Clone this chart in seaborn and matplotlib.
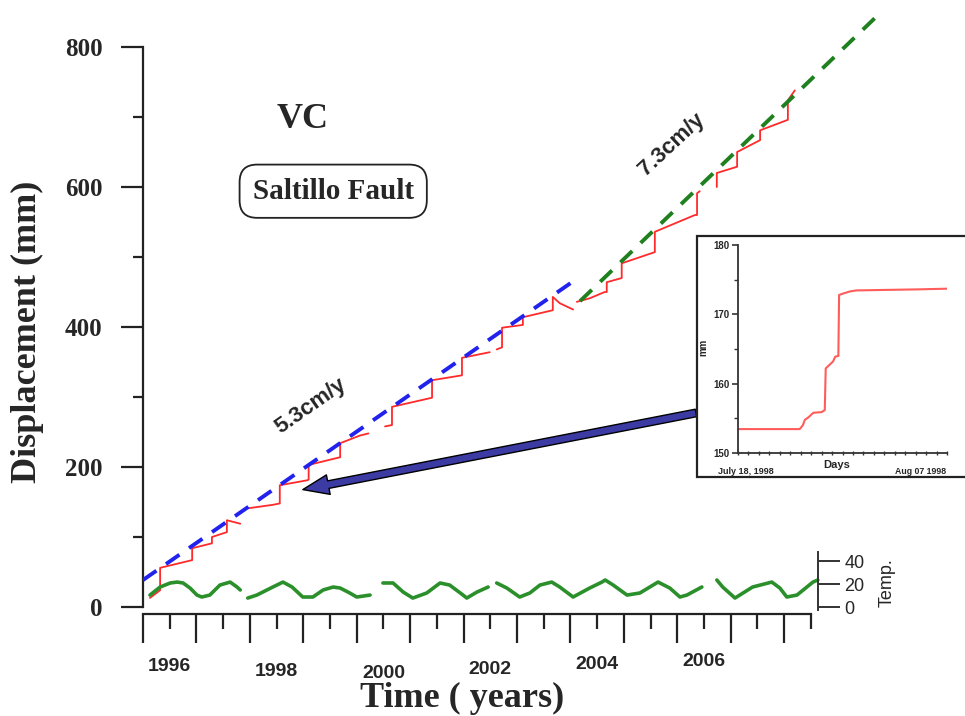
import numpy as np
import pandas as pd
import matplotlib
matplotlib.use("Agg")
import matplotlib.pyplot as plt
import matplotlib.transforms as mtrans
from matplotlib.patches import Rectangle, FancyArrowPatch, ArrowStyle
from matplotlib.ticker import FixedLocator
import seaborn as sns

# ---------------- data ----------------
red_year = [1996.13, 1996.32, 1996.32, 1996.92, 1996.92, 1997.29, 1997.29, 1997.57, 1997.57, 1997.82,
            1997.96, 1998.43, 1998.56, 1998.56, 1999.07, 1999.10, 1999.10, 1999.69, 1999.69, 2000.06, 2000.22,
            2000.53, 2000.66, 2000.66, 2001.41, 2001.41, 2001.97, 2001.97, 2002.49,
            2002.62, 2002.72, 2002.72, 2003.11, 2003.11, 2003.67, 2003.67, 2003.80, 2004.05,
            2004.12, 2004.36, 2004.64, 2004.68, 2004.68, 2004.96, 2004.96, 2005.58, 2005.58, 2006.33, 2006.37, 2006.37, 2006.42,
            2006.74, 2006.74, 2007.12, 2007.12, 2007.55, 2007.55, 2008.07, 2008.07, 2008.20]
red_mm = [13, 24, 56, 67, 84, 91, 100, 107, 124, 119,
          141, 146, 148, 174, 181, 182, 203, 214, 234, 245, 248,
          258, 260, 286, 299, 324, 331, 356, 364,
          368, 371, 399, 403, 414, 424, 443, 434, 425,
          436, 441, 450, 450, 464, 470, 491, 507, 536, 560, 560, 591, 594,
          600, 620, 629, 650, 667, 681, 696, 724, 738]
red_seg = [1] * 10 + [2] * 11 + [3] * 8 + [4] * 9 + [5] * 13 + [6] * 9

blue_year = [1996.0, 2004.14]
blue_mm = [38.6, 470.0]
green_year = [2004.18, 2009.79]
green_mm = [437.0, 848.0]

temp_year = [1996.13, 1996.32, 1996.51, 1996.64, 1996.75, 1996.88, 1997.01, 1997.10, 1997.25, 1997.44, 1997.63, 1997.76, 1997.82,
             1997.96, 1998.13, 1998.43, 1998.62, 1998.79, 1998.99, 1999.18, 1999.37, 1999.56, 1999.69, 1999.87, 2000.00, 2000.25,
             2000.49, 2000.68, 2000.87, 2001.05, 2001.31, 2001.56, 2001.74, 2001.99, 2002.06, 2002.25, 2002.46,
             2002.62, 2002.81, 2003.05, 2003.24, 2003.43, 2003.65, 2003.80, 2004.05, 2004.36, 2004.59, 2004.65, 2004.80,
             2005.06, 2005.30, 2005.64, 2005.86, 2006.05, 2006.18, 2006.46,
             2006.74, 2006.85, 2007.08, 2007.41, 2007.77, 2007.92, 2008.05, 2008.24, 2008.54, 2008.63]
temp_val = [10.4, 17.4, 20.9, 21.7, 20.9, 16.5, 10.4, 8.7, 10.4, 19.1, 21.7, 17.4, 14.8,
            7.8, 10.4, 17.4, 21.7, 17.4, 8.7, 8.7, 14.8, 17.4, 16.5, 12.2, 8.7, 10.4,
            20.9, 20.9, 13.0, 7.8, 12.2, 20.9, 19.1, 10.4, 7.8, 13.0, 17.4,
            20.9, 16.5, 8.7, 12.2, 19.1, 21.7, 17.4, 8.7, 16.5, 21.7, 23.5, 19.1,
            10.4, 12.2, 21.7, 16.5, 8.7, 10.4, 17.4,
            23.5, 17.4, 7.8, 17.4, 21.7, 16.5, 8.7, 10.4, 21.7, 23.5]
temp_seg = [1] * 13 + [2] * 13 + [3] * 11 + [4] * 19 + [5] * 10

inset_day = [0, 5.9, 6.2, 6.4, 6.7, 7.2, 8.0, 8.3, 8.39, 8.6, 9.09, 9.3, 9.6, 9.67, 10.05, 10.7, 11.3, 13.2, 17.1, 20.0]
inset_mm = [153.45, 153.45, 154.0, 154.8, 155.1, 155.8, 155.9, 156.2, 162.2, 162.5, 163.2, 163.9, 164.0, 172.8, 173.0, 173.3, 173.45, 173.5, 173.6, 173.7]

year_major = list(range(1996, 2009))
year_minor = [y + 0.5 for y in range(1996, 2009)]
year_labels = ["1996", "", "1998", "", "2000", "", "2002", "", "2004", "", "2006", "", ""]
year_label_dy = [0, 0, -5, 0, -7, 0, -3, 0, 2, 0, 5, 0, 0]   # px, stagger of labels
disp_ticks = [0, 200, 400, 600, 800]
temp_ticks = [0, 20, 40]
inset_ticks = [150, 160, 170, 180]

red_df = pd.DataFrame({"year": red_year, "mm": red_mm, "seg": red_seg})
temp_df = pd.DataFrame({"year": temp_year, "temp": temp_val, "seg": temp_seg})
blue_df = pd.DataFrame({"year": blue_year, "mm": blue_mm})
green_df = pd.DataFrame({"year": green_year, "mm": green_mm})
inset_df = pd.DataFrame({"day": inset_day, "mm": inset_mm})

# ---------------- style ----------------
sns.set_style("ticks")
plt.rcParams["font.family"] = ["Liberation Sans", "DejaVu Sans"]
SERIF = ["Liberation Serif", "DejaVu Serif"]
SANS = ["Liberation Sans", "DejaVu Sans"]

fig = plt.figure(figsize=(9.65, 7.16), dpi=100)
ax = fig.add_axes([0.1482, 0.1522, 0.7751, 0.8408])
ax.set_xlim(1996, 2010)
ax.set_ylim(0, 860)

# temperature twin axis
tx = ax.twinx()
tx.set_ylim(0, 40 * 602 / 46)
sns.lineplot(data=temp_df, x="year", y="temp", units="seg", estimator=None, sort=False,
             color="#2b902b", lw=2.6, ax=tx)

# displacement
sns.lineplot(data=red_df, x="year", y="mm", units="seg", estimator=None, sort=False,
             color="#ff2a2a", lw=1.3, ax=ax, zorder=3)
sns.lineplot(data=blue_df, x="year", y="mm", color="#2222ee", lw=2.8,
             linestyle=(0, (4.2, 3.0)), ax=ax, zorder=4)
sns.lineplot(data=green_df, x="year", y="mm", color="#1f801f", lw=2.8,
             linestyle=(0, (4.2, 3.0)), ax=ax, zorder=4, clip_on=False)

# axes styling main
for s in ["top", "right"]:
    ax.spines[s].set_visible(False)
ax.spines["left"].set_bounds(0, 800)
ax.spines["bottom"].set_position(("outward", 5))
ax.spines["bottom"].set_bounds(1996, 2008.5)
for s in ["left", "bottom"]:
    ax.spines[s].set_linewidth(1.6)
    ax.spines[s].set_color("#222222")

ax.yaxis.set_major_locator(FixedLocator(disp_ticks))
ax.yaxis.set_minor_locator(FixedLocator([100, 300, 500, 700]))
ax.tick_params(axis="y", which="major", length=16, width=1.6, pad=13, labelsize=18,
               color="#222222", labelfontfamily=SERIF)
ax.tick_params(axis="y", which="minor", length=7.5, width=1.6, color="#222222")
for lb in ax.get_yticklabels():
    lb.set_fontweight("bold")

ax.set_xticks(year_major)
ax.set_xticklabels([""] * len(year_major))
ax.set_xticks(year_minor, labels=year_labels, minor=True)
ax.tick_params(axis="x", which="major", length=21, width=1.6, color="#222222")
ax.tick_params(axis="x", which="minor", length=10.5, width=1.6, color="#222222",
               pad=21, labelsize=14)
for t, dy in zip(ax.xaxis.get_minor_ticks(), year_label_dy):
    t.label1.set_fontweight("bold")
    t.label1.set_transform(t.label1.get_transform() +
                           mtrans.ScaledTranslation(0, dy / 100.0, fig.dpi_scale_trans))

ax.set_xlabel("Time ( years)", fontsize=26, fontweight="bold", family=SERIF)
ax.xaxis.set_label_coords(0.4265, -0.125)
ax.set_ylabel("Displacement (mm)", fontsize=26, fontweight="bold", family=SERIF)
ax.yaxis.set_label_coords(-0.133, 0.457)

# temperature axis styling
for s in ["top", "left", "bottom"]:
    tx.spines[s].set_visible(False)
tx.spines["right"].set_position(("data", 2008.63))
tx.spines["right"].set_bounds(-3, 48)
tx.spines["right"].set_linewidth(1.4)
tx.spines["right"].set_color("#333333")
tx.yaxis.set_major_locator(FixedLocator(temp_ticks))
tx.tick_params(axis="y", length=16, width=1.4, pad=3, labelsize=13, color="#333333")
tx.set_ylabel("Temp.", fontsize=13, rotation=90)
tx.yaxis.set_label_coords(0.995, 0.04)
tx.yaxis.label.set_va("center")

# annotations
ax.text(1998.99, 696, "VC", fontsize=26, fontweight="bold", family=SERIF, ha="center", va="center")
ax.text(1999.56, 594, "Saltillo Fault", fontsize=21, fontweight="bold", family=SERIF,
        ha="center", va="center",
        bbox=dict(boxstyle="round,pad=0.45,rounding_size=0.6", fc="white", ec="#222222", lw=1.3))
ax.text(1999.14, 287, "5.3cm/y", fontsize=16, fontweight="bold", rotation=35,
        ha="center", va="center", rotation_mode="anchor")
ax.text(2005.90, 661, "7.3cm/y", fontsize=16, fontweight="bold", rotation=43,
        ha="center", va="center", rotation_mode="anchor")

arrow = FancyArrowPatch((2006.40, 278), (1998.94, 167),
                        arrowstyle=ArrowStyle.Simple(head_length=1.7, head_width=1.3, tail_width=0.5),
                        mutation_scale=11, fc="#3b3ba3", ec="black", lw=1.0, zorder=6)
ax.add_patch(arrow)

# inset
box = Rectangle((0.7223, 0.3338), 0.30, 0.3366, transform=fig.transFigure,
                fc="white", ec="#222222", lw=1.6, zorder=5)
fig.patches.append(box)

axi = fig.add_axes([0.7648, 0.3673, 0.2166, 0.2905], zorder=6)
axi.patch.set_alpha(0)
sns.lineplot(data=inset_df, x="day", y="mm", color="#ff5c5c", lw=1.5, ax=axi, sort=False)
axi.set_xlim(0, 20)
axi.set_ylim(150, 180)
for s in ["top", "right"]:
    axi.spines[s].set_visible(False)
for s in ["left", "bottom"]:
    axi.spines[s].set_linewidth(1.3)
    axi.spines[s].set_color("#333333")
axi.yaxis.set_major_locator(FixedLocator(inset_ticks))
axi.yaxis.set_minor_locator(FixedLocator([155, 165, 175]))
axi.tick_params(axis="y", which="major", length=4, width=1.2, pad=2, labelsize=7, color="#333333")
axi.tick_params(axis="y", which="minor", length=3, width=1.0, color="#333333")
for lb in axi.get_yticklabels():
    lb.set_fontweight("bold")
axi.set_xticks(list(range(0, 21)))
axi.set_xticklabels([])
axi.tick_params(axis="x", length=3, width=1.0, direction="inout", color="#333333")
axi.set_xlabel("")
axi.set_ylabel("")
axi.text(-0.167, 0.51, "mm", rotation=90, fontsize=7, fontweight="bold", transform=axi.transAxes,
         ha="center", va="center")
axi.text(0.474, -0.058, "Days", fontsize=8, fontweight="bold", transform=axi.transAxes,
         ha="center", va="center")
axi.text(-0.096, -0.087, "July 18, 1998", fontsize=6.5, fontweight="bold", transform=axi.transAxes,
         ha="left", va="center")
axi.text(0.995, -0.087, "Aug 07 1998", fontsize=6.3, fontweight="bold", transform=axi.transAxes,
         ha="right", va="center")

fig.savefig("out.png", dpi=100)
